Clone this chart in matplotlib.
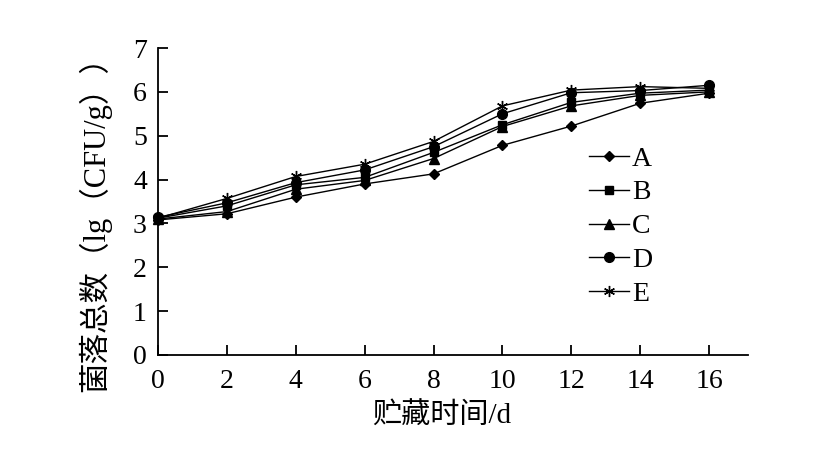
import matplotlib
matplotlib.use("Agg")
import matplotlib.pyplot as plt

days = [0, 2, 4, 6, 8, 10, 12, 14, 16]
series_names = ["A", "B", "C", "D", "E"]
A = [3.08, 3.22, 3.60, 3.90, 4.13, 4.78, 5.22, 5.74, 5.97]
B = [3.12, 3.40, 3.88, 4.05, 4.62, 5.25, 5.76, 5.97, 6.04]
C = [3.10, 3.27, 3.78, 3.98, 4.48, 5.21, 5.68, 5.92, 6.00]
D = [3.14, 3.47, 3.93, 4.22, 4.75, 5.50, 5.98, 6.03, 6.15]
E = [3.12, 3.57, 4.07, 4.35, 4.87, 5.68, 6.04, 6.12, 6.08]
xticks = [0, 2, 4, 6, 8, 10, 12, 14, 16]
yticks = [0, 1, 2, 3, 4, 5, 6, 7]
xlabel = "贮藏时间/d"
ylabel = "菌落总数（lg（CFU/g））"

fam = ["Liberation Serif", "Noto Sans CJK SC"]
plt.rcParams["font.family"] = fam

fig = plt.figure(figsize=(8.25, 4.55), dpi=100)
ax = fig.add_axes([0.1915, 0.2198, 0.9067 - 0.1915, 0.8945 - 0.2198])

markers = ["D", "s", "^", "o", (6, 2, 0)]
sizes = [5.5, 5.5, 6.5, 7, 8]
for name, vals, m, ms in zip(series_names, [A, B, C, D, E], markers, sizes):
    ax.plot(days, vals, color="black", lw=1.0, marker=m, ms=ms,
            markerfacecolor="black", markeredgecolor="black", mew=1.0,
            label=name, clip_on=False)

ax.set_xlim(0, 17.13)
ax.set_ylim(0, 7)
ax.set_xticks(xticks)
ax.set_yticks(yticks)
for s in ["top", "right"]:
    ax.spines[s].set_visible(False)
for s in ["left", "bottom"]:
    ax.spines[s].set_linewidth(1.3)
ax.tick_params(direction="in", length=7, width=1.3, labelsize=20, pad=8)
ax.tick_params(axis="x", pad=10)
for lab in ax.get_xticklabels() + ax.get_yticklabels():
    lab.set_family(fam)

ax.set_xlabel(xlabel, fontsize=21, family=fam)
ax.xaxis.set_label_coords(0.48, -0.155)
ax.set_ylabel(ylabel, fontsize=22, family=fam)
ax.yaxis.set_label_coords(-0.08, 0.45)

leg = ax.legend(loc="upper left", bbox_to_anchor=(0.73, 0.68), frameon=False,
                fontsize=20, handlelength=1.45, handletextpad=0.1,
                labelspacing=0.3, borderpad=0, borderaxespad=0)
for t in leg.get_texts():
    t.set_family(fam)

fig.savefig("out.png", dpi=100)
